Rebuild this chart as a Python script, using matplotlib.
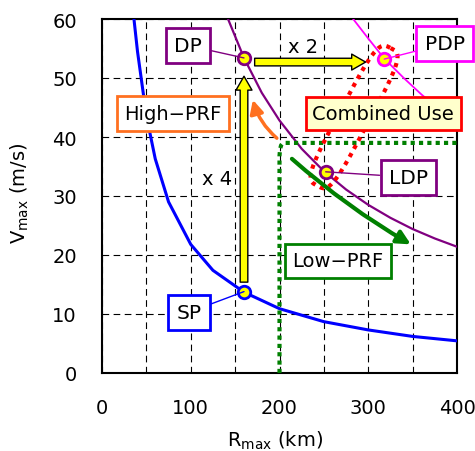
import matplotlib
matplotlib.use('Agg')
import matplotlib.pyplot as plt
import numpy as np

# curves (R_max in km, V_max in m/s)
sp_R = [36, 40, 50, 60, 75, 100, 125, 160, 200, 250, 300, 350, 400]
sp_V = [60, 54.5, 43.6, 36.3, 29.0, 21.8, 17.4, 13.7, 10.9, 8.7, 7.3, 6.2, 5.45]

dp_R = [142, 160, 180, 200, 225, 250, 275, 300, 325, 350, 375, 400]
dp_V = [60, 53.4, 47.5, 42.8, 38.0, 34.2, 31.1, 28.5, 26.3, 24.4, 22.8, 21.4]

pdp_R = [283, 300, 318, 340, 360, 380, 400]
pdp_V = [60, 56.7, 53.3, 50.0, 47.2, 44.7, 42.5]

lowprf_R = [200, 200, 200.6, 201.8, 203.5, 206, 400]
lowprf_V = [0, 36.8, 37.9, 38.6, 38.9, 39.0, 39.0]

# operating points
pt_names = ['SP', 'DP', 'PDP', 'LDP']
pt_R = [160, 160, 318, 252]
pt_V = [13.8, 53.4, 53.2, 34.1]
pt_colors = ['#0000ff', '#800080', '#ff00ff', '#800080']
label_R = [98, 97, 386, 345]
label_V = [10.3, 55.5, 55.8, 33.2]

fig = plt.figure(figsize=(4.75, 4.52), dpi=100)
ax = fig.add_axes([102/475, 1-374/452, 355/475, 354/452])
ax.set_xlim(0, 400)
ax.set_ylim(0, 60)
ax.set_xticks([0, 100, 200, 300, 400])
ax.set_xticks([50, 150, 250, 350], minor=True)
ax.set_yticks(range(0, 61, 10))
ax.grid(True, which='both', color='black', linestyle=(0, (6, 4)), linewidth=0.8)
ax.tick_params(which='both', length=0, labelsize=14, pad=18)
for s in ax.spines.values():
    s.set_linewidth(1.5)
ax.set_axisbelow(True)

ax.set_xlabel(r'R$_{\mathregular{max}}$ (km)', fontsize=14)
ax.set_ylabel(r'V$_{\mathregular{max}}$ (m/s)', fontsize=14)
ax.xaxis.set_label_coords(0.487, -0.158)
ax.yaxis.set_label_coords(-0.2, 0.51)

ax.plot(sp_R, sp_V, color='#0000ff', lw=2.2, zorder=3)
ax.plot(dp_R, dp_V, color='#800080', lw=1.6, zorder=3)
ax.plot(pdp_R, pdp_V, color='#ff00ff', lw=1.3, zorder=3)
ax.plot(lowprf_R, lowprf_V, color='#008000', lw=3, linestyle=(0, (1, 1)),
        dash_capstyle='butt', zorder=4)

# red dotted rounded outline around the combined-use region
fig.canvas.draw()
c = ax.transData.transform((284, 43.4))
ang = np.deg2rad(28)
u = np.array([np.sin(ang), np.cos(ang)])
v = np.array([np.cos(ang), -np.sin(ang)])
t = np.linspace(0, 2*np.pi, 240)
ct, st = np.cos(t), np.sin(t)
ce = np.sign(ct) * np.abs(ct) ** 0.5
se = np.sign(st) * np.abs(st) ** 0.5
pts = c + np.outer(78*ce, u) + np.outer(15*se, v)
pts = ax.transData.inverted().transform(pts)
ax.plot(pts[:, 0], pts[:, 1], color='#ff0000', lw=3, linestyle=(0, (1, 1.2)),
        dash_capstyle='butt', zorder=4)

# yellow arrows
yel = dict(arrowstyle='simple,head_length=1.0,head_width=1.15,tail_width=0.55',
           mutation_scale=10, fc='#ffff00', ec='black', lw=1, shrinkA=0, shrinkB=0)
ax.annotate('', xy=(160, 50.3), xytext=(160, 15.4), arrowprops=yel, zorder=5)
ax.annotate('', xy=(297, 52.7), xytext=(172, 52.7), arrowprops=yel, zorder=5)
ax.text(130, 33, 'x 4', fontsize=14, ha='center', va='center', zorder=6)
ax.text(226, 55.4, 'x 2', fontsize=14, ha='center', va='center', zorder=6)

# orange and green arrows
ax.annotate('', xy=(170, 46.3), xytext=(197, 39.8),
            arrowprops=dict(arrowstyle='-|>,head_length=0.8,head_width=0.4', color='#ff7020',
                            lw=2.5, shrinkA=0, shrinkB=0, connectionstyle='arc3,rad=-0.15'),
            zorder=5)
ax.annotate('', xy=(348, 21.8), xytext=(214, 36.3),
            arrowprops=dict(arrowstyle='-|>,head_length=0.8,head_width=0.4', color='#008000',
                            lw=3, shrinkA=0, shrinkB=0, connectionstyle='arc3,rad=0.05'),
            zorder=5)

# labelled points
for name, r, vv, col, lr, lv in zip(pt_names, pt_R, pt_V, pt_colors, label_R, label_V):
    ax.annotate(name, xy=(r, vv), xytext=(lr, lv), fontsize=14.5, ha='center', va='center',
                bbox=dict(boxstyle='square,pad=0.4', fc='white', ec=col, lw=2),
                arrowprops=dict(arrowstyle='-', color=col, lw=1, shrinkA=0, shrinkB=0),
                zorder=8, annotation_clip=False)
    ax.plot(r, vv, 'o', ms=9, mfc='#ffff00', mec=col, mew=2, zorder=7)

ax.text(80, 44, 'High\u2212PRF', fontsize=14, ha='center', va='center', zorder=8,
        bbox=dict(boxstyle='square,pad=0.4', fc='white', ec='#ff7020', lw=2))
ax.text(317, 44, 'Combined Use', fontsize=14, ha='center', va='center', zorder=8,
        bbox=dict(boxstyle='square,pad=0.35', fc='#ffffcc', ec='#ff0000', lw=2), clip_on=False)
ax.text(266, 19, 'Low\u2212PRF', fontsize=14, ha='center', va='center', zorder=8,
        bbox=dict(boxstyle='square,pad=0.4', fc='white', ec='#008000', lw=2))

fig.savefig('out.png', dpi=100)
